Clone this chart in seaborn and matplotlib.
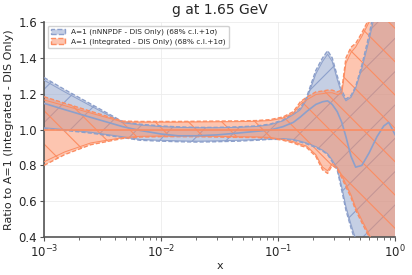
import numpy as np
import pandas as pd
import matplotlib
matplotlib.use("Agg")
import matplotlib.pyplot as plt
from matplotlib.patches import Patch
import seaborn as sns

# ---- data ----
x = [0.001, 0.0015, 0.0025, 0.0047, 0.0066, 0.01, 0.014, 0.02, 0.03, 0.045,
     0.065, 0.085, 0.11, 0.135, 0.155, 0.175, 0.21, 0.24, 0.265, 0.29,
     0.32, 0.35, 0.38, 0.42, 0.46, 0.52, 0.6, 0.7, 0.8, 0.88, 0.95, 1.0]

# nNNPDF - DIS only (blue)
blue_cv = [1.146, 1.111, 1.068, 1.016, 0.995, 0.975, 0.965, 0.965, 0.97, 0.98,
           0.99, 0.997, 1.016, 1.04, 1.07, 1.10, 1.14, 1.155, 1.16, 1.14,
           1.10, 1.04, 0.96, 0.85, 0.79, 0.80, 0.87, 0.96, 1.02, 1.04, 1.0, 0.97]
blue_up68 = [1.29, 1.223, 1.143, 1.044, 1.03, 1.02, 1.015, 1.012, 1.012, 1.015,
             1.02, 1.03, 1.053, 1.09, 1.12, 1.18, 1.33, 1.40, 1.44, 1.40,
             1.30, 1.22, 1.17, 1.19, 1.24, 1.36, 1.53, 1.75, 1.9, 2.0, 2.0, 2.0]
blue_lo68 = [1.005, 0.995, 0.98, 0.955, 0.94, 0.935, 0.932, 0.93, 0.932, 0.935,
             0.94, 0.945, 0.945, 0.94, 0.93, 0.92, 0.90, 0.88, 0.86, 0.82,
             0.775, 0.66, 0.55, 0.45, 0.37, 0.30, 0.20, 0.1, 0.0, 0.0, 0.0, 0.0]
blue_up1s = [1.275, 1.21, 1.132, 1.038, 1.025, 1.016, 1.012, 1.01, 1.01, 1.012,
             1.017, 1.026, 1.048, 1.083, 1.11, 1.165, 1.31, 1.38, 1.42, 1.38,
             1.28, 1.2, 1.16, 1.18, 1.23, 1.34, 1.5, 1.7, 1.85, 1.95, 2.0, 2.0]
blue_lo1s = [1.01, 1.0, 0.985, 0.96, 0.945, 0.94, 0.937, 0.935, 0.937, 0.94,
             0.944, 0.948, 0.95, 0.945, 0.935, 0.925, 0.905, 0.885, 0.865, 0.83,
             0.785, 0.68, 0.57, 0.47, 0.39, 0.32, 0.22, 0.12, 0.0, 0.0, 0.0, 0.0]

# Integrated - DIS only (orange)
orange_cv = [1.0] * len(x)
orange_up68 = [1.183, 1.147, 1.102, 1.047, 1.045, 1.045, 1.045, 1.046, 1.047, 1.048,
               1.05, 1.055, 1.07, 1.10, 1.155, 1.18, 1.21, 1.215, 1.22, 1.22,
               1.21, 1.22, 1.40, 1.46, 1.48, 1.54, 1.62, 1.8, 2.0, 2.0, 2.0, 2.0]
orange_lo68 = [0.80, 0.86, 0.915, 0.95, 0.958, 0.96, 0.96, 0.96, 0.958, 0.956,
               0.955, 0.952, 0.94, 0.925, 0.91, 0.90, 0.85, 0.775, 0.755, 0.80,
               0.78, 0.73, 0.68, 0.62, 0.55, 0.48, 0.40, 0.3, 0.2, 0.1, 0.0, 0.0]
orange_up1s = [1.165, 1.133, 1.092, 1.042, 1.041, 1.041, 1.041, 1.042, 1.043, 1.044,
               1.046, 1.05, 1.063, 1.09, 1.14, 1.165, 1.195, 1.2, 1.205, 1.205,
               1.195, 1.2, 1.37, 1.43, 1.46, 1.52, 1.6, 1.78, 1.98, 2.0, 2.0, 2.0]
orange_lo1s = [0.82, 0.875, 0.925, 0.955, 0.962, 0.964, 0.964, 0.964, 0.962, 0.96,
               0.959, 0.956, 0.945, 0.932, 0.918, 0.908, 0.86, 0.79, 0.77, 0.81,
               0.79, 0.745, 0.695, 0.635, 0.565, 0.495, 0.415, 0.315, 0.215, 0.115, 0.0, 0.0]

labels = ["A=1 (nNNPDF - DIS Only) (68% c.l.+1\u03c3)",
          "A=1 (Integrated - DIS Only) (68% c.l.+1\u03c3)"]

# ---- plotting ----
sns.set_theme(style="ticks")
plt.rcParams['font.family'] = ['DejaVu Sans']
plt.rcParams['hatch.linewidth'] = 0.8

pal = sns.color_palette("Set2")
cblue, corange = pal[2], pal[1]

fig = plt.figure(figsize=(4.12, 2.75), dpi=100)
ax = fig.add_axes([0.107, 0.138, 0.852, 0.782])

series = [
    (labels[0], cblue, '/', blue_cv, blue_up68, blue_lo68, blue_up1s, blue_lo1s),
    (labels[1], corange, '\\', orange_cv, orange_up68, orange_lo68, orange_up1s, orange_lo1s),
]

rows = []
for lab, col, hatch, cv, up68, lo68, up1, lo1 in series:
    upper = np.maximum(up68, up1)
    lower = np.minimum(lo68, lo1)
    ax.fill_between(x, lower, upper, facecolor=(*col, 0.5), edgecolor=col,
                    linewidth=0, hatch=hatch, zorder=1)
    for xi, yi in zip(x, cv):
        rows.append({"x": xi, "ratio": yi, "pdf": lab})

for lab, col, hatch, cv, up68, lo68, up1, lo1 in series:
    ax.plot(x, up68, color=col, lw=1.0, ls=(0, (3, 1.5)), zorder=3)
    ax.plot(x, lo68, color=col, lw=1.0, ls=(0, (3, 1.5)), zorder=3)
    ax.plot(x, up1, color=col, lw=0.7, ls='-', zorder=3)
    ax.plot(x, lo1, color=col, lw=0.7, ls='-', zorder=3)

df = pd.DataFrame(rows)
sns.lineplot(data=df, x="x", y="ratio", hue="pdf", palette=[cblue, corange],
             lw=1.2, ax=ax, legend=False, zorder=4, estimator=None)

ax.set_xscale('log')
ax.set_xlim(1e-3, 1)
ax.set_ylim(0.4, 1.6)
ax.set_yticks([0.4, 0.6, 0.8, 1.0, 1.2, 1.4, 1.6])
ax.grid(True, which='major', color='#ececec', lw=0.6, zorder=0)
ax.set_axisbelow(True)
sns.despine(ax=ax)
for s in ['left', 'bottom']:
    ax.spines[s].set_color('#555555')
    ax.spines[s].set_linewidth(1.2)
ax.tick_params(axis='both', which='major', labelsize=8.5, length=3, width=0.8,
               color='#555555', pad=2)
ax.tick_params(axis='x', which='minor', length=2, width=0.6, color='#555555')

ax.set_xlabel("x", fontsize=8, labelpad=0)
ax.set_ylabel("Ratio to A=1 (Integrated - DIS Only)", fontsize=8, labelpad=3)
ax.set_title("g at 1.65 GeV", fontsize=10, pad=6)

handles = [Patch(facecolor=(*cblue, 0.5), edgecolor=cblue, hatch='/', ls='--', lw=1),
           Patch(facecolor=(*corange, 0.5), edgecolor=corange, hatch='\\', ls='--', lw=1)]
ax.legend(handles, labels, loc='upper left', fontsize=5.3, frameon=True,
          handlelength=2.0, handleheight=0.8, borderpad=0.4, labelspacing=0.4,
          framealpha=0.9, edgecolor='#cccccc', bbox_to_anchor=(0.0, 1.0))

fig.savefig("out.png", dpi=100)
